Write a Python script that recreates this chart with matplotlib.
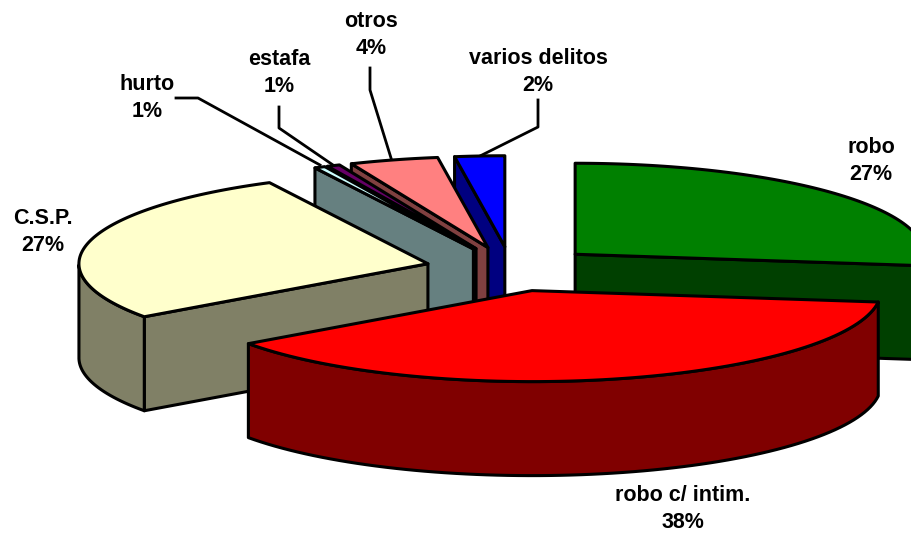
import numpy as np
import matplotlib
matplotlib.use('Agg')
import matplotlib.pyplot as plt
from matplotlib.patches import Polygon

plt.rcParams['font.family'] = ['Liberation Sans', 'DejaVu Sans']

categories = ['robo', 'robo c/ intim.', 'C.S.P.', 'hurto', 'estafa', 'otros', 'varios delitos']
values = [27.0, 38.1, 27.4, 0.5, 0.6, 4.1, 2.3]
pct_labels = ['27%', '38%', '27%', '1%', '1%', '4%', '2%']
top_colors = ['#008000', '#FF0000', '#FFFFCC', '#CCFFFF', '#660066', '#FF8080', '#0000FF']
side_colors = ['#004000', '#800000', '#808066', '#668080', '#330033', '#804040', '#000080']
draw_order = [6, 5, 4, 3, 0, 2, 1]

label_pos = [(871, 161), (683, 509), (43, 232), (147, 98), (279, 73), (371, 35), (538, 72)]
leaders = [None, None, None,
           [(176, 98), (198, 98), (320, 165)],
           [(279, 107), (279, 128), (333, 165)],
           [(370, 68), (370, 90), (391, 158)],
           [(538, 100), (538, 127), (480, 156)]]

# pie geometry in pixels
cx, cy = 511, 269
rx, ry = 349, 91
explode = 0.245
depth = 94
lw = 2.2

fig = plt.figure(figsize=(9.12, 5.33), dpi=100)
ax = fig.add_axes([0, 0, 1, 1])
ax.set_xlim(0, 912)
ax.set_ylim(533, 0)
ax.axis('off')

shares = np.array(values) / np.sum(values)
ends = np.cumsum(shares) * 2 * np.pi
starts = ends - shares * 2 * np.pi


def wall(p, q, color, z):
    pts = list(p) + [(x, y + depth) for x, y in q[::-1]]
    ax.add_patch(Polygon(pts, closed=True, fc=color, ec='black', lw=lw, joinstyle='round', zorder=z))


for n, i in enumerate(draw_order):
    a1, a2 = starts[i], ends[i]
    mid = (a1 + a2) / 2
    ox = cx + explode * rx * np.sin(mid)
    oy = cy - explode * ry * np.cos(mid)
    t = np.linspace(a1, a2, 80)
    arc = list(zip(ox + rx * np.sin(t), oy - ry * np.cos(t)))
    z = 2 + n

    # back faces are covered, only walls running right to left can be seen
    if np.sin(a1) < 0:
        edge = [(ox, oy), arc[0]]
        wall(edge, edge, side_colors[i], z)
    if np.sin(a2) > 0:
        edge = [arc[-1], (ox, oy)]
        wall(edge, edge, side_colors[i], z)
    front = [pt for pt, ang in zip(arc, t) if np.pi / 2 <= ang <= 3 * np.pi / 2]
    if len(front) > 1:
        wall(front, front, side_colors[i], z)
    ax.add_patch(Polygon([(ox, oy)] + arc, closed=True, fc=top_colors[i], ec='black',
                         lw=lw, joinstyle='round', zorder=z))

for i, cat in enumerate(categories):
    ax.text(label_pos[i][0], label_pos[i][1], '%s\n%s' % (cat, pct_labels[i]), ha='center', va='center',
            fontsize=15.5, fontweight='bold', linespacing=1.37, color='black', zorder=20)
    if leaders[i]:
        xs, ys = zip(*leaders[i])
        ax.plot(xs, ys, color='black', lw=2.0, zorder=1)

fig.savefig('out.png', dpi=100)
